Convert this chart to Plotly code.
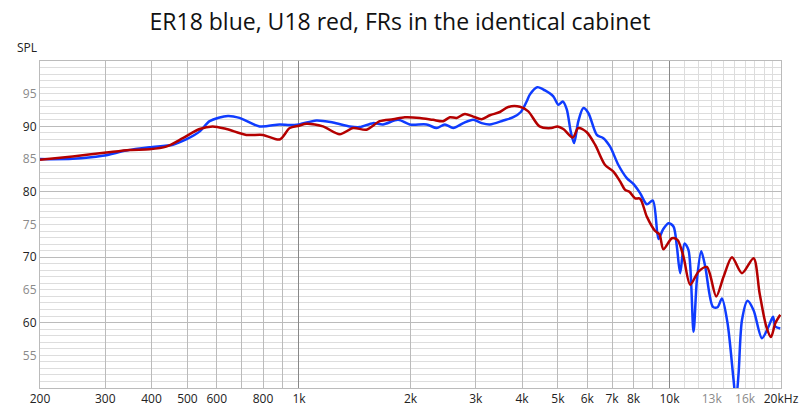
import plotly.graph_objects as go

TITLE = "ER18 blue, U18 red, FRs in the identical cabinet"

# ER18 (blue) frequency response, Hz / dB
er18_freq = [200, 245, 295, 342, 395, 457, 496, 539, 574, 643, 691, 783, 887, 944, 1000,
             1114, 1235, 1371, 1459, 1585, 1686, 1852, 1991, 2210, 2352, 2476, 2608, 2776,
             2953, 3112, 3276, 3560, 3788, 3970, 4116, 4202, 4398, 4614, 4858, 5012, 5152,
             5282, 5414, 5528, 5676, 5856, 6040, 6366, 6632, 6914, 7280, 7670, 7992, 8332,
             8688, 9020, 9340, 9598, 9938, 10252, 10472, 10688, 10980, 11256, 11612, 11858,
             12180, 12486, 13100, 13480, 13854, 14348, 14894, 15118, 15364, 15694, 16248,
             16866, 17770, 18518, 19030, 19304, 19912]
er18_spl = [85.0, 85.05, 85.5, 86.3, 86.8, 87.2, 88.0, 89.2, 90.8, 91.6, 91.3, 90.0, 90.3, 90.2, 90.3,
            90.9, 90.6, 90.0, 89.9, 90.5, 90.3, 91.0, 90.3, 90.3, 89.75, 90.3, 89.75, 90.5,
            91.0, 90.5, 90.3, 90.9, 91.4, 92.2, 93.8, 94.9, 96.0, 95.5, 94.6, 93.3, 93.8,
            92.6, 89.2, 87.45, 90.8, 92.8, 92.05, 88.7, 88.2, 86.9, 84.1, 82.1, 81.2, 79.8,
            78.1, 78.65, 72.8, 74.2, 75.2, 74.7, 71.6, 67.55, 72.1, 71.1, 58.6, 66.5,
            70.9, 68.6, 62.4, 62.35, 63.7, 59.9, 51.2, 48.0, 52.2, 60.4, 63.35,
            61.9, 57.6, 59.4, 60.9, 59.4, 59.1]

# U18 (red) frequency response, Hz / dB
u18_freq = [200, 245, 302, 349, 395, 438, 486, 539, 585, 637, 721, 799, 887, 944, 1000, 1047,
            1161, 1288, 1400, 1521, 1652, 1795, 1930, 2120, 2302, 2450, 2554, 2664, 2804,
            2953, 3112, 3276, 3486, 3672, 3948, 4158, 4460, 4802, 4984, 5170, 5482, 5676,
            5982, 6298, 6702, 7058, 7358, 7590, 7796, 8078, 8332, 8688, 9150, 9396, 9632,
            10152, 10510, 10910, 11376, 11978, 12620, 13372, 13996, 14748, 15694, 16866,
            17508, 18254, 18794, 19304, 19912]
u18_spl = [84.9, 85.4, 86.0, 86.4, 86.5, 86.9, 88.2, 89.6, 90.0, 89.6, 88.7, 88.7, 88.0, 89.75, 90.1, 90.4,
           90.0, 88.8, 89.75, 89.5, 90.8, 91.1, 91.4, 91.3, 91.0, 90.8, 91.4, 91.3, 91.9,
           91.5, 91.1, 91.7, 92.2, 92.97, 93.0, 92.3, 90.0, 89.75, 90.0, 89.6, 88.3, 89.75,
           89.1, 87.2, 84.1, 83.1, 81.6, 80.3, 80.0, 79.0, 78.95, 76.2, 74.0, 73.5, 71.2,
           72.9, 72.65, 70.1, 65.8, 67.8, 68.5, 64.0, 67.0, 70.0, 67.55, 69.85,
           64.5, 59.4, 57.8, 59.9, 61.2]

# axis ticks
x_tick_vals = [200, 300, 400, 500, 600, 800, 1000, 2000, 3000, 4000, 5000, 6000, 7000, 8000,
               10000, 13000, 16000, 20000]
x_tick_text = ["200", "300", "400", "500", "600", "800", "1k", "2k", "3k", "4k", "5k", "6k",
               "7k", "8k", "10k", '<span style="color:#8a8a8a">13k</span>',
               '<span style="color:#8a8a8a">16k</span>', "20kHz"]
x_grid_mid = [300, 400, 500, 600, 700, 800, 900, 2000, 3000, 4000, 5000, 6000, 7000, 8000, 9000]
x_grid_major = [1000, 10000]
x_grid_light = [11000, 12000, 13000, 14000, 15000, 16000, 17000, 18000, 19000]

y_tick_vals = [55, 60, 65, 70, 75, 80, 85, 90, 95]
y_tick_text = ['<span style="color:#8a8a8a">55</span>', "60",
               '<span style="color:#8a8a8a">65</span>', "70",
               '<span style="color:#8a8a8a">75</span>', "80",
               '<span style="color:#8a8a8a">85</span>', "90",
               '<span style="color:#8a8a8a">95</span>']
y_grid_mid = [60, 70, 80, 90]
y_grid_light = [v for v in range(51, 100) if v % 10 != 0]

XR = [2.30103, 4.30103]
YR = [50, 100]
FONT = "Open Sans"

fig = go.Figure()
fig.add_trace(go.Scatter(x=er18_freq, y=er18_spl, mode="lines", name="ER18",
                         line=dict(color="#0f3cff", width=2.5, shape="spline", smoothing=0.8),
                         xaxis="x", yaxis="y", showlegend=False))
fig.add_trace(go.Scatter(x=[], y=[], mode="lines", xaxis="x2", yaxis="y2",
                         showlegend=False, hoverinfo="skip"))
fig.add_trace(go.Scatter(x=u18_freq, y=u18_spl, mode="lines", name="U18",
                         line=dict(color="#b40000", width=2.5, shape="spline", smoothing=0.8),
                         xaxis="x3", yaxis="y2", showlegend=False))

fig.update_layout(
    width=800, height=413,
    margin=dict(l=40, r=19, t=61, b=25),
    paper_bgcolor="white", plot_bgcolor="white",
    font=dict(family=FONT, size=12, color="#222"),
    title=dict(text=TITLE, x=0.5, xanchor="center", yref="container", y=0.947,
               yanchor="middle", automargin=False,
               font=dict(family=FONT, size=23, color="#111")),
    xaxis=dict(type="log", range=XR, tickmode="array", tickvals=x_tick_vals,
               ticktext=x_tick_text, showgrid=False, zeroline=False, ticks="",
               showline=True, mirror=True, linecolor="#bbbbbb", linewidth=1,
               automargin=False,
               tickfont=dict(family=FONT, size=12, color="#222")),
    xaxis2=dict(type="log", range=XR, overlaying="x", tickmode="array", tickvals=x_grid_mid,
                showticklabels=False, showgrid=True, gridcolor="#bbbbbb", gridwidth=1,
                zeroline=False, ticks="", showline=False, automargin=False),
    xaxis3=dict(type="log", range=XR, overlaying="x", tickmode="array", tickvals=x_grid_major,
                showticklabels=False, showgrid=True, gridcolor="#888888", gridwidth=1,
                zeroline=False, ticks="", showline=False, automargin=False,
                minor=dict(tickmode="array", tickvals=x_grid_light, showgrid=True,
                           gridcolor="#dddddd", gridwidth=1, ticks="")),
    yaxis=dict(range=YR, tickmode="array", tickvals=y_tick_vals, ticktext=y_tick_text,
               showgrid=False, zeroline=False, ticks="", showline=True, mirror=True,
               linecolor="#bbbbbb", linewidth=1, automargin=False,
               tickfont=dict(family=FONT, size=12, color="#222")),
    yaxis2=dict(range=YR, overlaying="y", tickmode="array", tickvals=y_grid_mid,
                showticklabels=False, showgrid=True, gridcolor="#bbbbbb", gridwidth=1,
                zeroline=False, ticks="", showline=False, automargin=False,
                minor=dict(tickmode="array", tickvals=y_grid_light, showgrid=True,
                           gridcolor="#dddddd", gridwidth=1, ticks="")),
    annotations=[dict(text="SPL", xref="paper", yref="paper", x=-0.0175, y=1.04,
                      xanchor="center", yanchor="middle", showarrow=False,
                      font=dict(family=FONT, size=12, color="#222"))],
)

fig.write_html("out.html", config={"displayModeBar": False},
               post_script="document.body.style.margin='0';")
